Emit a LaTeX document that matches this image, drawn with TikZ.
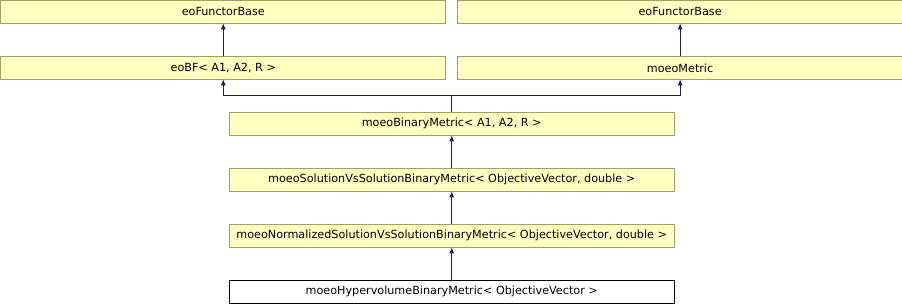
\documentclass[tikz,border=0pt]{standalone}
\usepackage{fontspec}
\setmainfont{DejaVu Sans}
\usepackage{tikz}
\usetikzlibrary{arrows.meta,positioning,calc}
\definecolor{clsfill}{HTML}{FFFFC0}
\definecolor{clsline}{HTML}{A0A060}
\definecolor{inhline}{HTML}{191970}
\tikzset{
  cls_box/.style={
    draw=clsline, rectangle, fill=clsfill, line width=0.8pt,
    minimum width=445pt, minimum height=22.2pt,
    text centered, font=\fontsize{11.2}{13}\selectfont, inner sep=0pt
  },
  cls_this/.style={
    cls_box, draw=black, fill=white
  },
  inh_arr/.style={-{Latex[length=6pt,width=5pt]}, draw=inhline, line width=0.8pt},
}
\begin{document}
\begin{tikzpicture}[node distance=33pt]
\useasboundingbox (0,0) rectangle (902pt,-304pt);

\node[cls_box, anchor=north west] (fbase1) at (0.4pt,-0.4pt) {eoFunctorBase};
\node[cls_box, right=11pt of fbase1]  (fbase2) {eoFunctorBase};
\node[cls_box, below=of fbase1]       (eobf)   {eoBF< A1, A2, R >};
\node[cls_box, below=of fbase2]       (metric) {moeoMetric};
\coordinate (mid) at ($(eobf.south)!0.5!(metric.south)$);
\node[cls_box, below=of mid]          (binmetric) {moeoBinaryMetric< A1, A2, R >};
\node[cls_box, below=of binmetric]    (svsmetric) {moeoSolutionVsSolutionBinaryMetric< ObjectiveVector, double >};
\node[cls_box, below=of svsmetric]    (normmetric) {moeoNormalizedSolutionVsSolutionBinaryMetric< ObjectiveVector, double >};
\node[cls_this, below=of normmetric]  (hypmetric) {moeoHypervolumeBinaryMetric< ObjectiveVector >};

% Inheritance arrows
\draw[inh_arr] (eobf)   -- (fbase1);
\draw[inh_arr] (metric) -- (fbase2);
\coordinate (join) at ($(binmetric.north)!0.5!(mid)$);
\draw[inh_arr] (binmetric.north) -- (join) -| (eobf.south);
\draw[inh_arr] (join) -| (metric.south);
\draw[inh_arr] (svsmetric)  -- (binmetric);
\draw[inh_arr] (normmetric) -- (svsmetric);
\draw[inh_arr] (hypmetric)  -- (normmetric);

\end{tikzpicture}
\end{document}
